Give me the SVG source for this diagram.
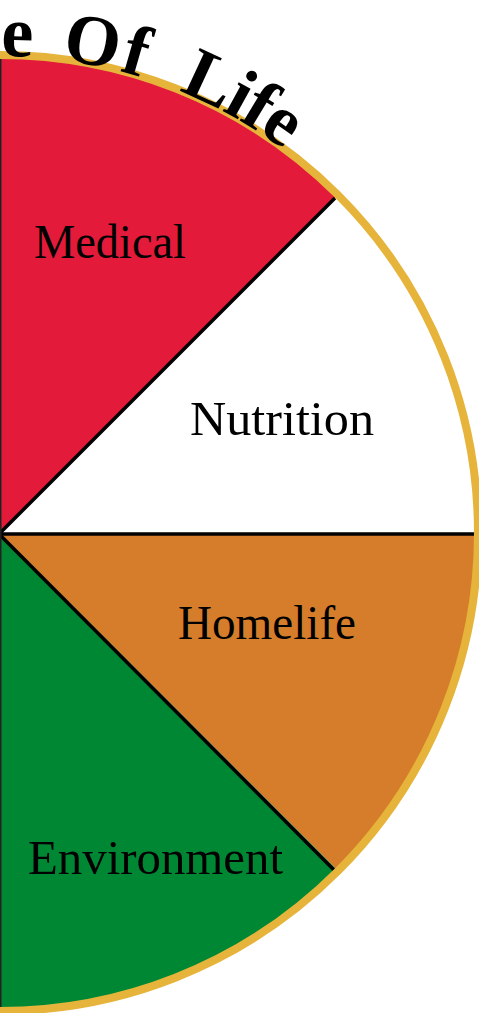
<svg xmlns="http://www.w3.org/2000/svg" width="479" height="1013" viewBox="0 0 479 1013">
<style>
.lbl{font-family:"Liberation Serif","Times New Roman",serif;font-size:48px;fill:#000}
.ttl{font-family:"Liberation Serif","Times New Roman",serif;font-size:72px;font-weight:bold;fill:#000}
.div{stroke:#000;stroke-width:3.5;fill:none}
</style>
<defs>
<path id="arc" d="M0,56 A477,477 0 0 1 477,533"/>
</defs>
<rect width="479" height="1013" fill="#fff"/>
<g id="medical">
<path d="M0,533 L0,57 A476,476 0 0 1 336.6,196.4 Z" fill="#E31A3A"/>
<text class="lbl" x="34" y="258" textLength="152" lengthAdjust="spacingAndGlyphs">Medical</text>
</g>
<g id="nutrition">
<path d="M0,533 L336.6,196.4 A476,476 0 0 1 476,533 Z" fill="#fff"/>
<text class="lbl" x="190" y="435" textLength="184" lengthAdjust="spacingAndGlyphs">Nutrition</text>
</g>
<g id="homelife">
<path d="M0,533 L476,533 A476,476 0 0 1 336.6,869.6 Z" fill="#D57D2B"/>
<text class="lbl" x="178" y="639" textLength="178" lengthAdjust="spacingAndGlyphs">Homelife</text>
</g>
<g id="environment">
<path d="M0,533 L336.6,869.6 A476,476 0 0 1 0,1009 Z" fill="#008733"/>
<text class="lbl" x="28" y="874" textLength="255" lengthAdjust="spacingAndGlyphs">Environment</text>
</g>
<g id="connectors">
<line class="div" x1="0" y1="534" x2="475" y2="534"/>
<line class="div" x1="0" y1="533" x2="335" y2="198"/>
<line class="div" x1="1" y1="536" x2="334" y2="870"/>
<line x1="0.5" y1="58" x2="0.5" y2="1008" stroke="#222" stroke-width="2"/>
</g>
<g id="rim">
<circle cx="0" cy="533" r="478" fill="none" stroke="#E6B43A" stroke-width="8"/>
</g>
<g id="title">
<text class="ttl"><textPath href="#arc" startOffset="1">e</textPath></text>
<text class="ttl" letter-spacing="3"><textPath href="#arc" startOffset="61">Of</textPath></text>
<text class="ttl" letter-spacing="-1"><textPath href="#arc" startOffset="183">Life</textPath></text>
</g>
</svg>
